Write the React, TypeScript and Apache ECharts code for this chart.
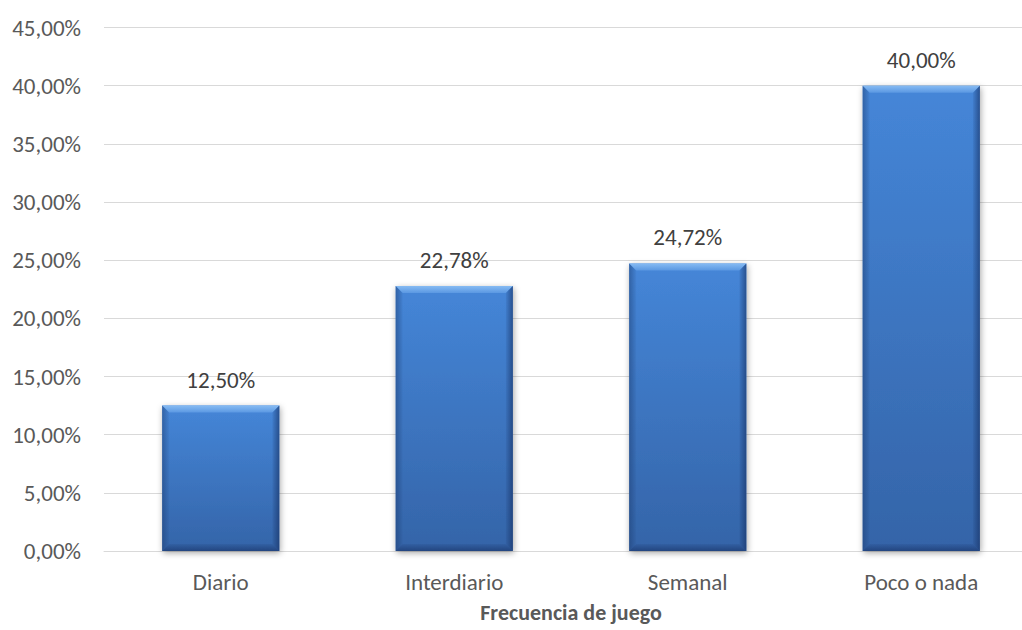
import React, { useEffect, useRef } from "react";
import * as echarts from "echarts";

const categories: string[] = ["Diario", "Interdiario", "Semanal", "Poco o nada"];
const values: number[] = [12.5, 22.78, 24.72, 40.0];
const yMin = 0;
const yMax = 45;
const yInterval = 5;
const axisTitle = "Frecuencia de juego";

const FONT = "Carlito, Calibri, Lato, sans-serif";
const FS = 23;
const fmt = (v: number) => v.toFixed(2).replace(".", ",") + "%";

export default function App() {
  const ref = useRef<HTMLDivElement>(null);
  useEffect(() => {
    if (!ref.current) return;
    const chart = echarts.init(ref.current, null, { renderer: "svg" });
    const renderItem = (params: any, api: any) => {
      const idx = api.value(0);
      const val = api.value(1);
      const top = api.coord([idx, val]);
      const base = api.coord([idx, 0]);
      const band = api.size([1, 0])[0];
      const w = band * 0.502;
      const x0 = top[0] - w / 2;
      const y0 = top[1];
      const h = base[1] - y0;
      const b = 7;
      const x1 = x0 + w;
      const y1 = y0 + h;
      return {
        type: "group",
        children: [
          {
            type: "rect",
            shape: { x: x0, y: y0, width: w, height: h },
            style: {
              fill: new echarts.graphic.LinearGradient(0, 0, 0, 1, [
                { offset: 0, color: "#4586d8" },
                { offset: 1, color: "#3464a8" },
              ]),
              shadowBlur: 6,
              shadowOffsetX: 1,
              shadowOffsetY: 2,
              shadowColor: "rgba(0,0,0,0.35)",
            },
          },
          {
            type: "polygon",
            shape: { points: [[x0, y0], [x1, y0], [x1 - b, y0 + b], [x0 + b, y0 + b]] },
            style: {
              fill: new echarts.graphic.LinearGradient(0, 0, 0, 1, [
                { offset: 0, color: "#86bbf3" },
                { offset: 1, color: "#5b98e2" },
              ]),
            },
          },
          {
            type: "polygon",
            shape: { points: [[x0, y0], [x0 + b, y0 + b], [x0 + b, y1 - b], [x0, y1]] },
            style: {
              fill: new echarts.graphic.LinearGradient(0, 0, 1, 0, [
                { offset: 0, color: "rgba(25,55,105,0.45)" },
                { offset: 1, color: "rgba(25,55,105,0.05)" },
              ]),
            },
          },
          {
            type: "polygon",
            shape: { points: [[x1, y0], [x1 - b, y0 + b], [x1 - b, y1 - b], [x1, y1]] },
            style: {
              fill: new echarts.graphic.LinearGradient(1, 0, 0, 0, [
                { offset: 0, color: "rgba(20,45,95,0.6)" },
                { offset: 1, color: "rgba(20,45,95,0.08)" },
              ]),
            },
          },
          {
            type: "polygon",
            shape: { points: [[x0, y1], [x1, y1], [x1 - b, y1 - b], [x0 + b, y1 - b]] },
            style: {
              fill: new echarts.graphic.LinearGradient(0, 1, 0, 0, [
                { offset: 0, color: "rgba(20,45,95,0.55)" },
                { offset: 1, color: "rgba(20,45,95,0.1)" },
              ]),
            },
          },
          {
            type: "text",
            x: top[0],
            y: y0 - 26,
            style: {
              text: fmt(val),
              fill: "#404040",
              font: `${FS}px ${FONT}`,
              align: "center",
              verticalAlign: "middle",
            },
          },
        ],
      };
    };
    chart.setOption({
      animation: false,
      backgroundColor: "#ffffff",
      grid: {
        left: 104,
        top: 27.5,
        width: 934,
        height: 523.5,
        containLabel: false,
        outerBoundsMode: "none",
      },
      xAxis: {
        type: "category",
        data: categories,
        name: axisTitle,
        nameLocation: "middle",
        nameGap: 50,
        nameTextStyle: {
          fontFamily: FONT,
          fontSize: 22,
          fontWeight: "bold",
          color: "#595959",
        },
        axisLine: { show: true, lineStyle: { color: "#d9d9d9", width: 1 } },
        axisTick: { show: false },
        axisLabel: { fontFamily: FONT, fontSize: FS, color: "#595959", margin: 19 },
      },
      yAxis: {
        type: "value",
        min: yMin,
        max: yMax,
        interval: yInterval,
        axisLine: { show: false },
        axisTick: { show: false },
        splitLine: { lineStyle: { color: "#d9d9d9", width: 1 } },
        axisLabel: { fontFamily: FONT, fontSize: FS, color: "#595959", margin: 23, formatter: (v: number) => fmt(v) },
      },
      series: [
        {
          type: "custom",
          renderItem,
          data: values.map((v, i) => [i, v]),
          encode: { x: 0, y: 1 },
          z: 3,
        },
      ],
    });
    return () => chart.dispose();
  }, []);
  return <div ref={ref} style={{ position: "absolute", left: 0, top: 0, width: 1022, height: 630 }} />;
}
